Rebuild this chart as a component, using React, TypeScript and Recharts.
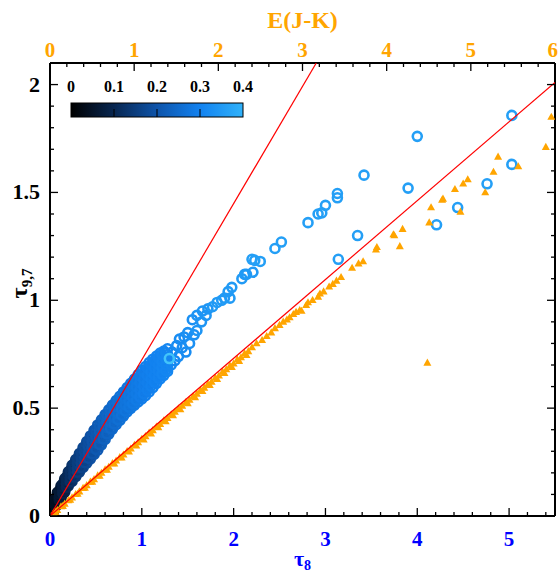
import { ScatterChart, Scatter, XAxis, YAxis } from "recharts";

const SERIF = '"Liberation Serif", "DejaVu Serif", serif';

// axis ticks (major + minor)
const tau8Ticks = [0, 0.2, 0.4, 0.6, 0.8, 1, 1.2, 1.4, 1.6, 1.8, 2, 2.2, 2.4, 2.6, 2.8, 3, 3.2, 3.4, 3.6, 3.8, 4, 4.2, 4.4, 4.6, 4.8, 5, 5.2, 5.4];
const ejkTicks = [0, 0.2, 0.4, 0.6, 0.8, 1, 1.2, 1.4, 1.6, 1.8, 2, 2.2, 2.4, 2.6, 2.8, 3, 3.2, 3.4, 3.6, 3.8, 4, 4.2, 4.4, 4.6, 4.8, 5, 5.2, 5.4, 5.6, 5.8, 6];
const tau97Ticks = [0, 0.1, 0.2, 0.3, 0.4, 0.5, 0.6, 0.7, 0.8, 0.9, 1, 1.1, 1.2, 1.3, 1.4, 1.5, 1.6, 1.7, 1.8, 1.9, 2];
const cbarTicks = [0, 0.1, 0.2, 0.3, 0.4];

// dense band of circles near the origin: tau8 columns, five tau9.7 rows each, colour value
const bandX = [0, 0.04, 0.08, 0.12, 0.16, 0.2, 0.24, 0.28, 0.32, 0.36, 0.4, 0.44, 0.48, 0.52, 0.56, 0.6, 0.64, 0.68, 0.72, 0.76, 0.8, 0.84, 0.88, 0.92, 0.96, 1.0, 1.04, 1.08, 1.12, 1.16, 1.2, 1.24, 1.28];
const bandLower = [0.0, 0.024, 0.053, 0.082, 0.11, 0.14, 0.16, 0.182, 0.203, 0.225, 0.245, 0.265, 0.285, 0.305, 0.33, 0.355, 0.379, 0.403, 0.423, 0.443, 0.463, 0.483, 0.499, 0.514, 0.529, 0.543, 0.558, 0.575, 0.595, 0.615, 0.635, 0.652, 0.67];
const bandQ1 = [0.003, 0.034, 0.067, 0.097, 0.126, 0.156, 0.179, 0.202, 0.225, 0.248, 0.27, 0.292, 0.313, 0.334, 0.359, 0.384, 0.407, 0.431, 0.451, 0.471, 0.491, 0.511, 0.528, 0.544, 0.561, 0.576, 0.592, 0.609, 0.628, 0.647, 0.665, 0.68, 0.696];
const bandMid = [0.005, 0.045, 0.081, 0.111, 0.141, 0.173, 0.198, 0.222, 0.246, 0.271, 0.295, 0.318, 0.341, 0.364, 0.388, 0.413, 0.436, 0.459, 0.479, 0.499, 0.519, 0.539, 0.557, 0.575, 0.592, 0.609, 0.626, 0.643, 0.661, 0.678, 0.695, 0.709, 0.723];
const bandQ3 = [0.008, 0.055, 0.094, 0.126, 0.157, 0.189, 0.216, 0.242, 0.268, 0.294, 0.32, 0.345, 0.369, 0.393, 0.417, 0.441, 0.464, 0.486, 0.507, 0.527, 0.547, 0.567, 0.586, 0.605, 0.624, 0.642, 0.659, 0.677, 0.694, 0.71, 0.725, 0.737, 0.749];
const bandUpper = [0.01, 0.065, 0.108, 0.14, 0.172, 0.205, 0.235, 0.262, 0.289, 0.317, 0.345, 0.371, 0.397, 0.422, 0.446, 0.47, 0.492, 0.514, 0.535, 0.555, 0.575, 0.595, 0.615, 0.635, 0.655, 0.675, 0.693, 0.711, 0.727, 0.741, 0.755, 0.765, 0.775];
const bandC = [0, 0.03, 0.055, 0.078, 0.098, 0.115, 0.13, 0.145, 0.158, 0.17, 0.182, 0.193, 0.204, 0.214, 0.224, 0.233, 0.241, 0.248, 0.255, 0.262, 0.268, 0.274, 0.278, 0.282, 0.286, 0.29, 0.293, 0.296, 0.299, 0.302, 0.305, 0.307, 0.31];

// in-between columns of the same band, four rows each
const band2X = [0.02, 0.06, 0.1, 0.14, 0.18, 0.22, 0.26, 0.3, 0.34, 0.38, 0.42, 0.46, 0.5, 0.54, 0.58, 0.62, 0.66, 0.7, 0.74, 0.78, 0.82, 0.86, 0.9, 0.94, 0.98, 1.02, 1.06, 1.1, 1.14, 1.18, 1.22, 1.26];
const band2R1 = [0.015, 0.044, 0.075, 0.104, 0.133, 0.159, 0.181, 0.203, 0.225, 0.247, 0.268, 0.289, 0.309, 0.332, 0.357, 0.381, 0.405, 0.427, 0.447, 0.467, 0.487, 0.505, 0.521, 0.537, 0.552, 0.567, 0.583, 0.602, 0.621, 0.64, 0.658, 0.675];
const band2R2 = [0.022, 0.057, 0.089, 0.119, 0.149, 0.176, 0.2, 0.224, 0.247, 0.271, 0.294, 0.316, 0.338, 0.361, 0.386, 0.41, 0.433, 0.455, 0.475, 0.495, 0.515, 0.534, 0.551, 0.568, 0.584, 0.601, 0.617, 0.635, 0.653, 0.671, 0.687, 0.702];
const band2R3 = [0.028, 0.068, 0.103, 0.134, 0.165, 0.194, 0.219, 0.244, 0.27, 0.295, 0.319, 0.343, 0.367, 0.39, 0.415, 0.438, 0.461, 0.483, 0.503, 0.523, 0.543, 0.562, 0.581, 0.599, 0.617, 0.634, 0.651, 0.669, 0.686, 0.702, 0.716, 0.729];
const band2R4 = [0.034, 0.08, 0.117, 0.149, 0.181, 0.211, 0.239, 0.265, 0.292, 0.319, 0.345, 0.37, 0.395, 0.419, 0.444, 0.467, 0.489, 0.511, 0.531, 0.551, 0.571, 0.591, 0.61, 0.63, 0.649, 0.667, 0.685, 0.702, 0.718, 0.733, 0.746, 0.757];
const band2C = [0.015, 0.043, 0.066, 0.088, 0.106, 0.122, 0.138, 0.152, 0.164, 0.176, 0.188, 0.198, 0.209, 0.219, 0.228, 0.237, 0.244, 0.251, 0.258, 0.265, 0.271, 0.276, 0.28, 0.284, 0.288, 0.291, 0.294, 0.297, 0.3, 0.303, 0.306, 0.308];

// scattered circles [tau8, tau9.7, colour value]
const blueSparse: [number, number, number][] = [
  [1.32, 0.7, 0.31], [1.33, 0.76, 0.31], [1.36, 0.72, 0.31], [1.38, 0.79, 0.32], [1.4, 0.74, 0.32],
  [1.41, 0.82, 0.32], [1.44, 0.78, 0.32], [1.46, 0.83, 0.32], [1.48, 0.76, 0.32], [1.5, 0.85, 0.33],
  [1.52, 0.8, 0.33], [1.55, 0.91, 0.33], [1.57, 0.84, 0.33], [1.6, 0.93, 0.34], [1.6, 0.86, 0.34],
  [1.65, 0.9, 0.34], [1.66, 0.95, 0.34], [1.7, 0.93, 0.34], [1.72, 0.96, 0.34], [1.77, 0.97, 0.35],
  [1.82, 0.99, 0.35], [1.87, 1.0, 0.35], [1.9, 1.01, 0.35], [1.94, 1.04, 0.35], [1.96, 1.01, 0.35],
  [1.98, 1.06, 0.35], [2.09, 1.1, 0.35], [2.12, 1.12, 0.35], [2.14, 1.12, 0.35], [2.21, 1.13, 0.35],
  [2.2, 1.19, 0.36], [2.23, 1.185, 0.36], [2.29, 1.18, 0.36], [2.45, 1.24, 0.36], [2.52, 1.27, 0.36],
  [2.81, 1.36, 0.36], [2.92, 1.4, 0.36], [2.96, 1.405, 0.36], [3.0, 1.44, 0.36], [3.13, 1.475, 0.36],
  [3.13, 1.495, 0.36], [3.14, 1.19, 0.36], [3.35, 1.3, 0.36], [3.42, 1.58, 0.36], [3.9, 1.52, 0.36],
  [4.0, 1.76, 0.36], [4.21, 1.35, 0.36], [4.44, 1.43, 0.36], [4.76, 1.54, 0.36], [5.03, 1.857, 0.36],
  [5.03, 1.63, 0.36], [1.3, 0.73, 0.43],
];

// triangles [tau8, tau9.7]
const orangePts: [number, number][] = [
  [0.0, 0.0], [0.04, 0.015], [0.08, 0.027], [0.12, 0.044], [0.16, 0.056], [0.2, 0.072], [0.24, 0.085],
  [0.28, 0.101], [0.32, 0.113], [0.36, 0.129], [0.4, 0.142], [0.44, 0.158], [0.48, 0.17], [0.52, 0.187],
  [0.56, 0.199], [0.6, 0.215], [0.64, 0.227], [0.68, 0.244], [0.72, 0.256], [0.76, 0.272], [0.8, 0.284],
  [0.84, 0.3], [0.88, 0.312], [0.92, 0.329], [0.96, 0.341], [1.0, 0.357], [1.04, 0.369], [1.08, 0.386],
  [1.12, 0.397], [1.16, 0.414], [1.2, 0.425], [1.24, 0.442], [1.28, 0.453], [1.32, 0.47], [1.36, 0.482],
  [1.4, 0.498], [1.44, 0.51], [1.48, 0.527], [1.52, 0.538], [1.56, 0.555], [1.6, 0.566], [1.64, 0.583],
  [1.68, 0.594], [1.72, 0.611], [1.76, 0.622], [1.8, 0.64], [1.84, 0.65], [1.88, 0.668], [1.92, 0.679],
  [1.96, 0.696], [2.0, 0.706], [2.04, 0.725], [2.08, 0.735], [2.12, 0.753], [2.16, 0.763], [2.2, 0.781],
  [2.25, 0.8], [2.31, 0.815], [2.36, 0.833], [2.41, 0.85], [2.45, 0.87], [2.5, 0.885], [2.54, 0.9],
  [2.58, 0.91], [2.61, 0.92], [2.65, 0.935], [2.68, 0.945], [2.72, 0.954], [2.74, 0.95], [2.79, 0.977],
  [2.81, 0.99], [2.86, 1.0], [2.92, 1.016], [2.94, 1.03], [2.98, 1.04], [3.04, 1.063], [3.08, 1.075],
  [3.12, 1.09], [3.17, 1.107], [3.29, 1.15], [3.36, 1.17], [3.41, 1.18], [3.55, 1.234], [3.56, 1.246],
  [3.74, 1.305], [3.75, 1.3], [3.81, 1.25], [3.84, 1.33], [4.11, 0.71], [4.13, 1.36], [4.15, 1.43],
  [4.27, 1.465], [4.28, 1.47], [4.41, 1.515], [4.47, 1.41], [4.5, 1.54], [4.55, 1.56], [4.74, 1.5],
  [4.83, 1.595], [4.88, 1.665], [5.1, 1.62], [5.4, 1.71], [5.46, 1.85],
];
// lower edge of the dense triangle band
const orangeLow: [number, number][] = [
  [0.06, 0.018], [0.14, 0.046], [0.22, 0.074], [0.3, 0.102], [0.38, 0.13], [0.46, 0.158], [0.54, 0.186],
  [0.62, 0.214], [0.7, 0.242], [0.78, 0.27], [0.86, 0.298], [0.94, 0.326], [1.02, 0.354], [1.1, 0.382],
  [1.18, 0.41], [1.26, 0.438], [1.34, 0.466], [1.42, 0.494], [1.5, 0.522], [1.58, 0.55], [1.66, 0.578],
  [1.74, 0.606], [1.82, 0.634], [1.9, 0.662], [1.98, 0.69], [2.06, 0.718], [2.14, 0.746],
];

// red lines: steep one in tau8, shallow one in E(J-K)
const redSteep: [number, number][] = [[0, 0], [2.9, 2.1]];
const redShallow: [number, number][] = [[0, 0], [6, 2.01]];

// colour map of the bar: value -> rgb
const CMAP: [number, number, number, number][] = [
  [0, 0, 0, 0],
  [0.1, 8, 38, 80],
  [0.2, 14, 84, 170],
  [0.3, 18, 130, 240],
  [0.4, 48, 178, 250],
  [0.45, 78, 208, 250],
];

function cmap(v: number): string {
  for (let i = 1; i < CMAP.length; i++) {
    const a = CMAP[i - 1];
    const b = CMAP[i];
    if (v <= b[0]) {
      const t = Math.max(0, (v - a[0]) / (b[0] - a[0]));
      const c = [1, 2, 3].map((k) => Math.round(a[k] + (b[k] - a[k]) * t));
      return `rgb(${c[0]},${c[1]},${c[2]})`;
    }
  }
  const l = CMAP[CMAP.length - 1];
  return `rgb(${l[1]},${l[2]},${l[3]})`;
}

const blueData = [
  ...bandX.flatMap((x, i) =>
    [bandLower[i], bandQ1[i], bandMid[i], bandQ3[i], bandUpper[i]].map((y) => ({ x, y, c: bandC[i] }))
  ),
  ...band2X.flatMap((x, i) =>
    [band2R1[i], band2R2[i], band2R3[i], band2R4[i]].map((y) => ({ x, y, c: band2C[i] }))
  ),
  ...blueSparse.map(([x, y, c]) => ({ x, y, c })),
];
const toXY = (pts: [number, number][]) => pts.map(([x, y]) => ({ x, y }));
const orangeData = [...toXY(orangeLow), ...toXY(orangePts)];

const isInt = (v: number) => Math.abs(v - Math.round(v)) < 1e-6;
const isHalf = (v: number) => Math.abs(v * 2 - Math.round(v * 2)) < 1e-6;

function BottomTick(p: any) {
  const v = p.payload.value;
  const major = isInt(v);
  return (
    <g>
      <line x1={p.x} x2={p.x} y1={p.y} y2={p.y - (major ? 8 : 4)} stroke="#000" strokeWidth={1.3} />
      {major && (
        <text x={p.x} y={p.y + 30} textAnchor="middle" fill="#0000ff" fontSize={21} fontWeight="bold" fontFamily={SERIF}>
          {v}
        </text>
      )}
    </g>
  );
}

function TopTick(p: any) {
  const v = p.payload.value;
  const major = isInt(v);
  // the last label sits at the right edge of the figure
  const last = v === ejkTicks[ejkTicks.length - 1];
  return (
    <g>
      <line x1={p.x} x2={p.x} y1={p.y} y2={p.y + (major ? 8 : 4)} stroke="#000" strokeWidth={1.3} />
      {major && (
        <text
          x={last ? p.x + 3 : p.x}
          y={p.y - 6}
          textAnchor={last ? "end" : "middle"}
          fill="#ffa500"
          fontSize={21}
          fontWeight="bold"
          fontFamily={SERIF}
        >
          {v}
        </text>
      )}
    </g>
  );
}

function LeftTick(p: any) {
  const v = p.payload.value;
  const major = isHalf(v);
  return (
    <g>
      <line x1={p.x} x2={p.x + (major ? 8 : 4)} y1={p.y} y2={p.y} stroke="#000" strokeWidth={1.3} />
      {major && (
        <text x={p.x - 10} y={p.y + 7} textAnchor="end" fill="#000" fontSize={22} fontWeight="bold" fontFamily={SERIF}>
          {v}
        </text>
      )}
    </g>
  );
}

function RightTick(p: any) {
  const major = isHalf(p.payload.value);
  return <line x1={p.x} x2={p.x - (major ? 8 : 4)} y1={p.y} y2={p.y} stroke="#000" strokeWidth={1.3} />;
}

function BottomTitle(p: any) {
  const vb = p.viewBox;
  return (
    <text x={vb.x + vb.width / 2} y={vb.y + 50} textAnchor="middle" fill="#0000ff" fontSize={22} fontWeight="bold" fontFamily={SERIF}>
      τ<tspan fontSize={14} dy={4}>8</tspan>
    </text>
  );
}

function TopTitle(p: any) {
  const vb = p.viewBox;
  return (
    <text x={vb.x + vb.width / 2} y={vb.y + 28} textAnchor="middle" fill="#ffa500" fontSize={24} fontWeight="bold" fontFamily={SERIF}>
      E(J-K)
    </text>
  );
}

function LeftTitle(p: any) {
  const vb = p.viewBox;
  const cy = vb.y + vb.height / 2 - 6;
  return (
    <text transform={`translate(27, ${cy}) rotate(-90)`} textAnchor="middle" fill="#000" fontSize={24} fontWeight="bold" fontFamily={SERIF}>
      τ<tspan fontSize={15} dy={5}>9,7</tspan>
    </text>
  );
}

const renderRing = (p: any) => (
  <circle cx={p.cx} cy={p.cy} r={4.5} fill="none" stroke={cmap(p.payload.c)} strokeWidth={2.6} />
);

const renderTri = (p: any) => (
  <polygon points={`${p.cx},${p.cy - 4.3} ${p.cx + 4},${p.cy + 2.8} ${p.cx - 4},${p.cy + 2.8}`} fill="#ffa500" />
);

const renderNone = () => <g />;

function ColorBar() {
  const x0 = 71;
  const x1 = 243;
  const y0 = 103;
  const h = 14;
  const pos = (v: number) => x0 + (v / 0.4) * (x1 - x0);
  return (
    <svg width={558} height={574} style={{ position: "absolute", left: 0, top: 0, pointerEvents: "none" }}>
      <defs>
        <linearGradient id="cbar" x1="0" x2="1" y1="0" y2="0">
          {CMAP.filter((s) => s[0] <= 0.4).map((s) => (
            <stop key={s[0]} offset={s[0] / 0.4} stopColor={`rgb(${s[1]},${s[2]},${s[3]})`} />
          ))}
        </linearGradient>
      </defs>
      <rect x={x0} y={y0} width={x1 - x0} height={h} fill="url(#cbar)" stroke="#000" strokeWidth={1} />
      {cbarTicks.slice(1, -1).map((v) => (
        <line key={v} x1={pos(v)} x2={pos(v)} y1={y0 + h} y2={y0 + h - 8} stroke="#000" strokeWidth={1} />
      ))}
      {cbarTicks.map((v) => (
        <text key={v} x={pos(v)} y={92} textAnchor="middle" fill="#000" fontSize={16} fontWeight="bold" fontFamily={SERIF}>
          {v}
        </text>
      ))}
    </svg>
  );
}

export default function App() {
  return (
    <div style={{ position: "absolute", left: 0, top: 0, width: 558, height: 574, background: "#fff" }}>
      <ScatterChart width={558} height={574} margin={{ top: 0, right: 0, bottom: 0, left: 0 }}>
        <XAxis
          xAxisId="b"
          type="number"
          dataKey="x"
          orientation="bottom"
          domain={[0, 5.5]}
          ticks={tau8Ticks}
          interval={0}
          allowDataOverflow
          height={58}
          tickSize={0}
          tickMargin={0}
          tickLine={false}
          axisLine={{ stroke: "#000", strokeWidth: 2 }}
          tick={BottomTick}
          label={BottomTitle}
        />
        <XAxis
          xAxisId="t"
          type="number"
          dataKey="x"
          orientation="top"
          domain={[0, 6]}
          ticks={ejkTicks}
          interval={0}
          allowDataOverflow
          height={63}
          tickSize={0}
          tickMargin={0}
          tickLine={false}
          axisLine={{ stroke: "#000", strokeWidth: 2 }}
          tick={TopTick}
          label={TopTitle}
        />
        <YAxis
          yAxisId="l"
          type="number"
          dataKey="y"
          domain={[0, 2.1]}
          ticks={tau97Ticks}
          interval={0}
          allowDataOverflow
          width={50}
          tickSize={0}
          tickMargin={0}
          tickLine={false}
          axisLine={{ stroke: "#000", strokeWidth: 2 }}
          tick={LeftTick}
          label={LeftTitle}
        />
        <YAxis
          yAxisId="r"
          type="number"
          dataKey="y"
          orientation="right"
          domain={[0, 2.1]}
          ticks={tau97Ticks}
          interval={0}
          allowDataOverflow
          width={3}
          tickSize={0}
          tickMargin={0}
          tickLine={false}
          axisLine={{ stroke: "#000", strokeWidth: 2 }}
          tick={RightTick}
        />
        <Scatter xAxisId="b" yAxisId="l" data={blueData} shape={renderRing} isAnimationActive={false} />
        <Scatter xAxisId="b" yAxisId="l" data={orangeData} shape={renderTri} isAnimationActive={false} />
        <Scatter
          xAxisId="b"
          yAxisId="r"
          data={toXY(redSteep)}
          shape={renderNone}
          line={{ stroke: "#ff0000", strokeWidth: 1.2 }}
          isAnimationActive={false}
        />
        <Scatter
          xAxisId="t"
          yAxisId="l"
          data={toXY(redShallow)}
          shape={renderNone}
          line={{ stroke: "#ff0000", strokeWidth: 1.2 }}
          isAnimationActive={false}
        />
      </ScatterChart>
      <ColorBar />
    </div>
  );
}
